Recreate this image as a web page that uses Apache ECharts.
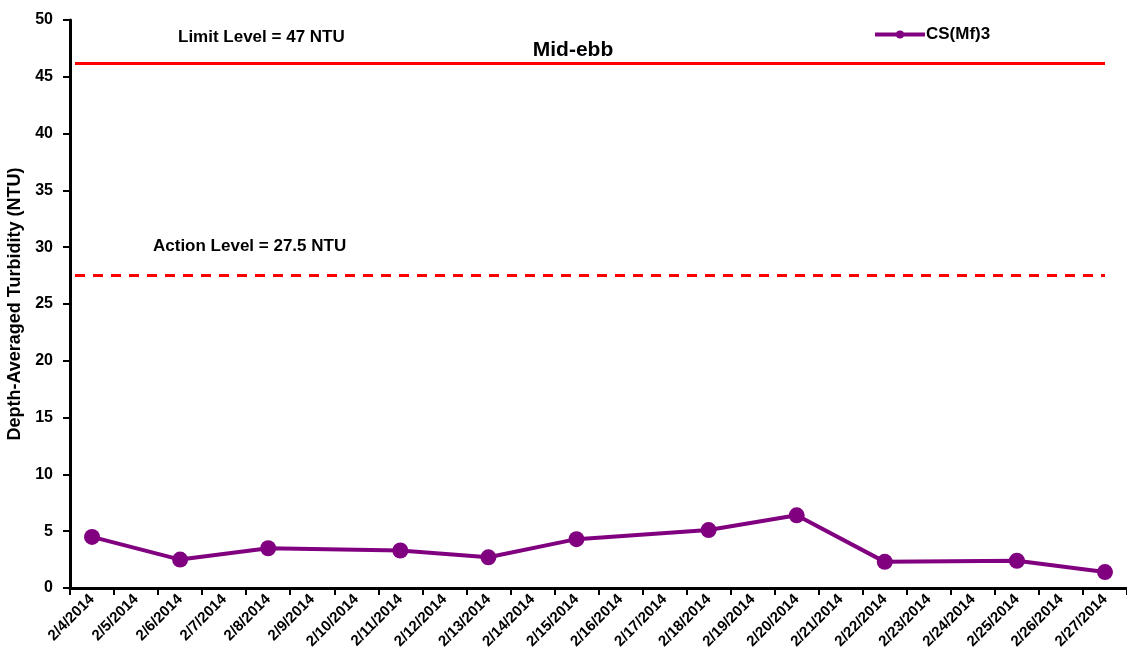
<!DOCTYPE html>
<html lang="en">
<head>
    <meta charset="UTF-8">
    <title>Mid-ebb - CS(Mf)3</title>
    <script src="https://cdn.jsdelivr.net/npm/echarts@6/dist/echarts.min.js"></script>
    <style>
        html, body { margin: 0; padding: 0; background: #fff; }
        #chart { width: 1127px; height: 668px; }
    </style>
</head>
<body>
<div id="chart"></div>
<script>
    // dates on the x axis (every day, one category each)
    const dates = ['2/4/2014', '2/5/2014', '2/6/2014', '2/7/2014', '2/8/2014', '2/9/2014',
        '2/10/2014', '2/11/2014', '2/12/2014', '2/13/2014', '2/14/2014', '2/15/2014',
        '2/16/2014', '2/17/2014', '2/18/2014', '2/19/2014', '2/20/2014', '2/21/2014',
        '2/22/2014', '2/23/2014', '2/24/2014', '2/25/2014', '2/26/2014', '2/27/2014'];
    // depth-averaged turbidity, null = no survey that day
    const csMf3 = [4.5, null, 2.5, null, 3.5, null, null, 3.3, null, 2.7, null, 4.3,
        null, null, 5.1, null, 6.4, null, 2.3, null, null, 2.4, null, 1.4];
    const limitLevel = 46.2;   // drawn a bit under 47 in the original
    const actionLevel = 27.5;
    const yTicks = {min: 0, max: 50, interval: 5};

    const fontFam = 'Liberation Sans, Arial, sans-serif';
    let myChart = echarts.init(document.getElementById('chart'));
    let option = {
        animation: false,
        backgroundColor: '#fff',
        title: {
            text: 'Mid-ebb',
            left: 568,
            top: 35,
            textAlign: 'center',
            textStyle: {fontFamily: fontFam, fontSize: 21, fontWeight: 'bold', color: '#000'}
        },
        legend: {
            left: 868,
            top: 21,
            itemWidth: 50,
            itemHeight: 10,
            itemGap: 2,
            lineStyle: {width: 4},
            textStyle: {fontFamily: fontFam, fontSize: 17, fontWeight: 'bold', color: '#000', padding: [0, 0, 0, -4]},
            data: ['CS(Mf)3']
        },
        graphic: [
            {type: 'text', left: 178, top: 29,
                style: {text: 'Limit Level = 47 NTU', font: 'bold 17px Liberation Sans, Arial, sans-serif', fill: '#000'}},
            {type: 'text', left: 153, top: 238,
                style: {text: 'Action Level = 27.5 NTU', font: 'bold 17px Liberation Sans, Arial, sans-serif', fill: '#000'}}
        ],
        grid: {left: 70, right: 0, top: 20, bottom: 80, containLabel: false, outerBoundsMode: 'none'},
        xAxis: {
            type: 'category',
            data: dates,
            boundaryGap: true,
            axisLine: {lineStyle: {color: '#000', width: 3}},
            axisTick: {show: true, length: 7, lineStyle: {color: '#000', width: 2}},
            axisLabel: {
                interval: 0,
                rotate: 45,
                margin: 9,
                fontFamily: fontFam,
                fontSize: 15,
                fontWeight: 'bold',
                color: '#000'
            },
            splitLine: {show: false}
        },
        yAxis: {
            type: 'value',
            min: yTicks.min,
            max: yTicks.max,
            interval: yTicks.interval,
            name: 'Depth-Averaged Turbidity (NTU)',
            nameLocation: 'middle',
            nameGap: 43,
            nameRotate: 90,
            nameTextStyle: {fontFamily: fontFam, fontSize: 18, fontWeight: 'bold', color: '#000'},
            axisLine: {show: true, lineStyle: {color: '#000', width: 3}},
            axisTick: {show: true, length: 7, lineStyle: {color: '#000', width: 2}},
            axisLabel: {fontFamily: fontFam, fontSize: 16, fontWeight: 'bold', color: '#000', margin: 17},
            splitLine: {show: false}
        },
        series: [
            {
                name: 'CS(Mf)3',
                type: 'line',
                data: csMf3,
                connectNulls: true,
                symbol: 'circle',
                symbolSize: 16,
                color: '#800080',
                lineStyle: {color: '#800080', width: 4},
                itemStyle: {color: '#800080'},
                markLine: {
                    silent: true,
                    symbol: ['none', 'none'],
                    label: {show: false},
                    data: [
                        [{coord: [0, limitLevel], x: 75}, {coord: [23, limitLevel], x: 1105}],
                        [{coord: [0, actionLevel], x: 75}, {coord: [23, actionLevel], x: 1105}]
                    ]
                }
            }
        ]
    };
    // separate styles for the two levels
    option.series[0].markLine.data[0][0].lineStyle = {color: '#ff0000', width: 3, type: 'solid'};
    option.series[0].markLine.data[1][0].lineStyle = {color: '#ff0000', width: 3, type: [10, 8]};
    myChart.setOption(option);
</script>
</body>
</html>
